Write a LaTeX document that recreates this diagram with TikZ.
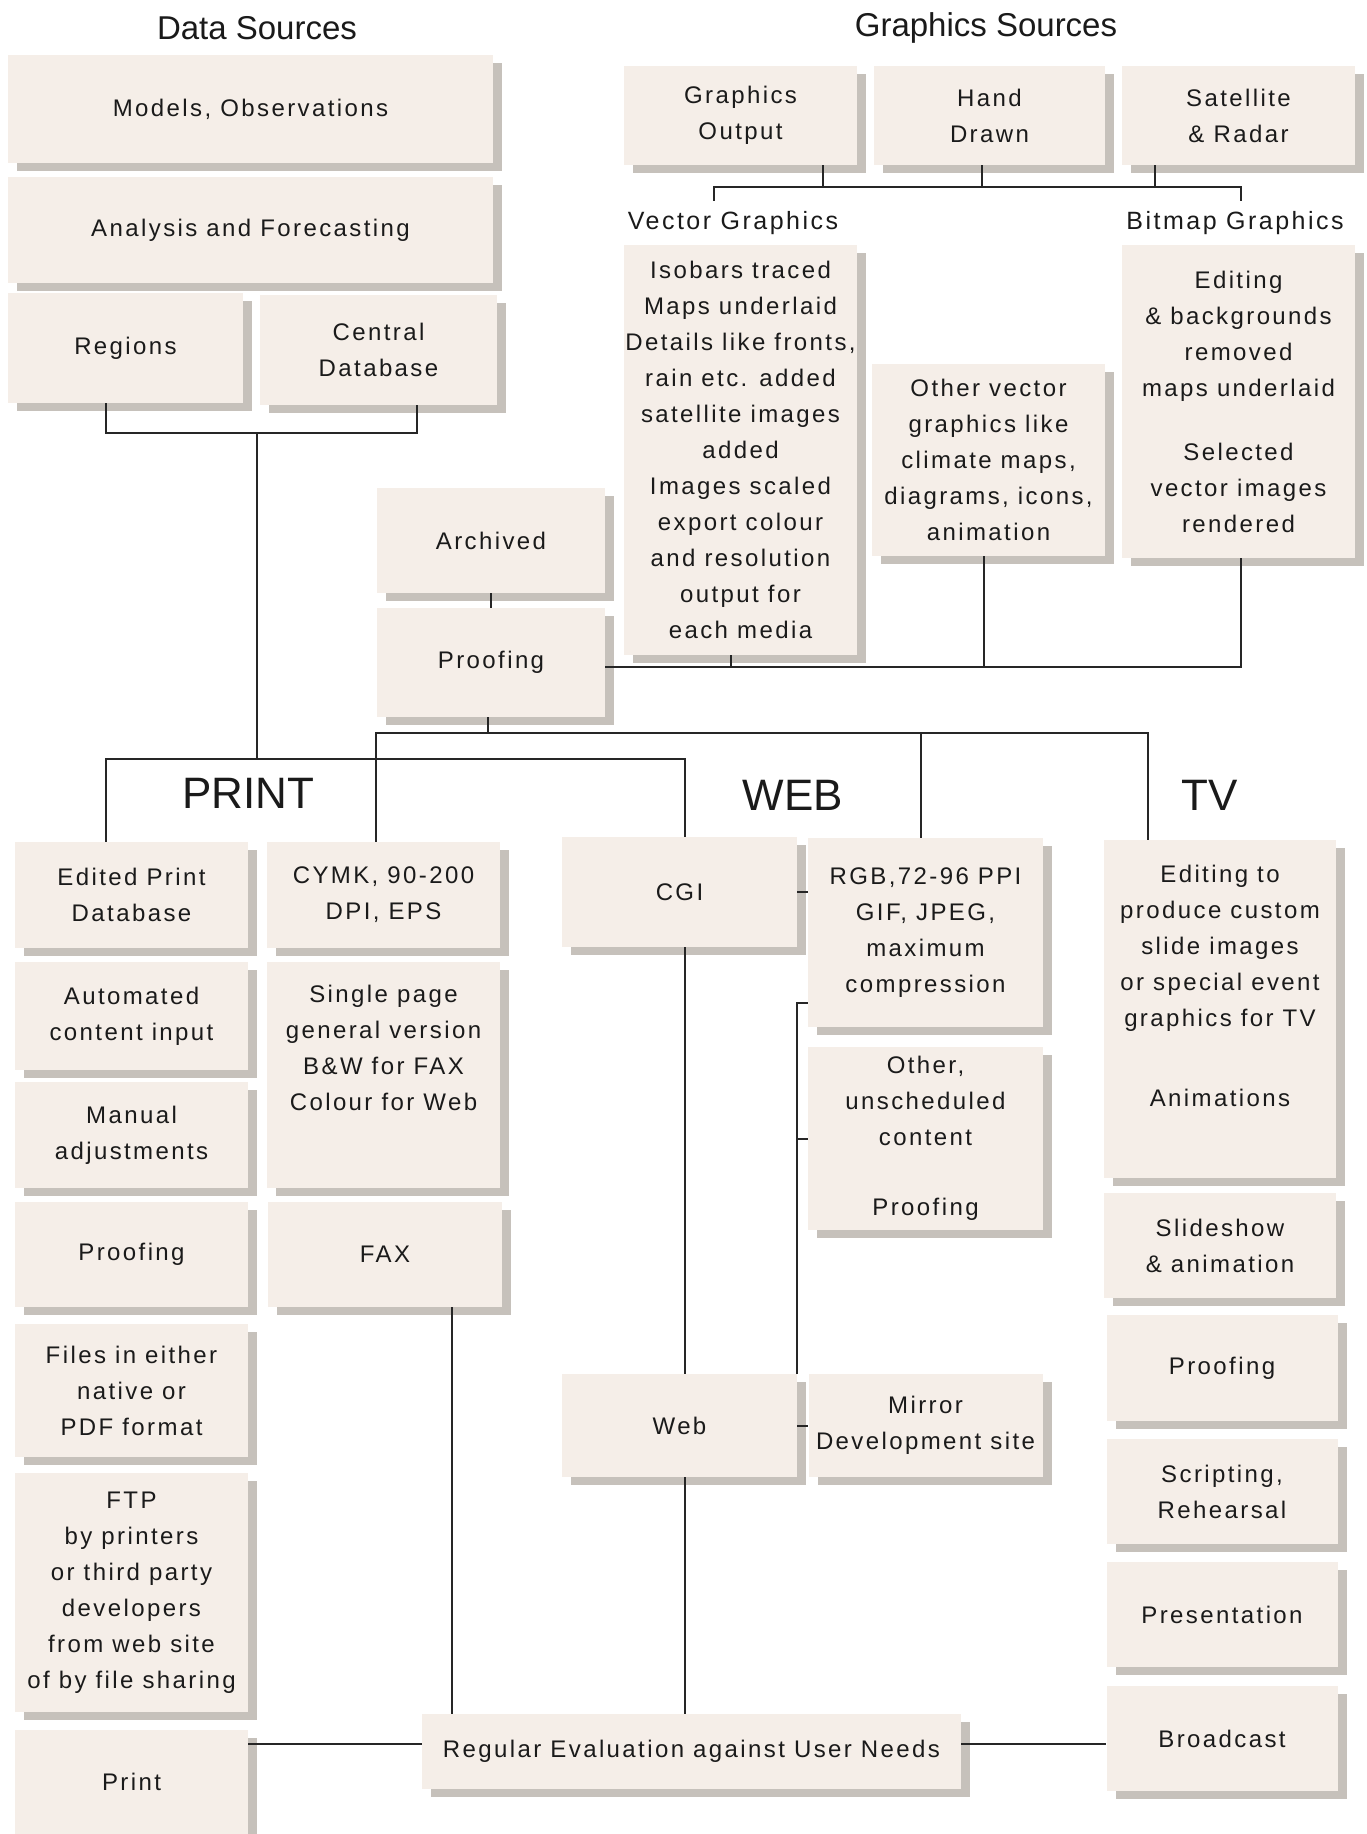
\documentclass[tikz,border=0pt]{standalone}
\usepackage{fontspec}
\setmainfont{Liberation Sans}[LetterSpace=10]
\newfontfamily\headfont{Liberation Sans}
\usepackage{tikz}
\usepackage{xcolor}
\usetikzlibrary{shadows}
\definecolor{BoxBeige}{HTML}{F5EEE8}
\definecolor{ShadowGrey}{HTML}{C6C1BB}
\definecolor{LineDark}{HTML}{262626}
\definecolor{TextDark}{HTML}{1A1A1A}

\begin{document}
\begin{tikzpicture}[x=0.5pt, y=-0.5pt,
    box/.style={fill=BoxBeige, text=TextDark, align=center, inner sep=0pt,
      font=\fontsize{12}{18}\selectfont,
      general shadow={fill=ShadowGrey, shadow xshift=4.5pt, shadow yshift=-4pt}},
    link/.style={draw=LineDark, line width=1pt},
    head/.style={text=TextDark, font=\headfont\fontsize{22}{26}\selectfont},
    srctitle/.style={text=TextDark, font=\headfont\fontsize{16.5}{20}\selectfont},
    sublabel/.style={text=TextDark, font=\fontsize{12.5}{15}\selectfont}]

        % Page frame
        \useasboundingbox (0,0) rectangle (1366,1834);

        % Titles
        \node[srctitle] (datatitle) at (257,28) {Data Sources};
        \node[srctitle] (gfxtitle) at (986,28) {Graphics Sources};

        % Data sources
        \node[box, minimum width=242.5pt, minimum height=54pt] (models) at (250.5,109) {Models, Observations};
        \node[box, minimum width=242.5pt, minimum height=53pt] (analysis) at (250.5,230) {Analysis and Forecasting};
        \node[box, minimum width=117.5pt, minimum height=55pt] (regions) at (125.5,348) {Regions};
        \node[box, minimum width=118.5pt, minimum height=55pt] (centraldb) at (378.5,350) {Central\\Database};

        % Graphics sources
        \node[box, minimum width=116.5pt, minimum height=49.5pt] (gout) at (740.5,115.5) {Graphics\\Output};
        \node[box, minimum width=115.5pt, minimum height=49.5pt] (hand) at (989.5,115.5) {Hand\\Drawn};
        \node[box, minimum width=116.5pt, minimum height=49.5pt] (sat) at (1238.5,115.5) {Satellite\\\& Radar};
        \node[sublabel] (veclbl) at (733,223) {Vector Graphics};
        \node[sublabel] (bitlbl) at (1235,223) {Bitmap Graphics};
        \node[box, minimum width=116.5pt, minimum height=205pt] (vecbox) at (740.5,450) {Isobars traced\\Maps underlaid\\Details like fronts,\\rain etc. added\\satellite images\\added\\Images scaled\\export colour\\and resolution\\output for\\each media};
        \node[box, minimum width=116.5pt, minimum height=96pt] (othervec) at (988.5,460) {Other vector\\graphics like\\climate maps,\\diagrams, icons,\\animation};
        \node[box, minimum width=116.5pt, minimum height=156.5pt] (bitbox) at (1238.5,401.5) {Editing\\\& backgrounds\\removed\\maps underlaid\\[14pt]Selected\\vector images\\rendered};

        % Archive and proofing
        \node[box, minimum width=114pt, minimum height=52.5pt] (archived) at (491,540.5) {Archived};
        \node[box, minimum width=114pt, minimum height=54.5pt] (proofmid) at (491,662.5) {Proofing};

        % Output headings
        \node[head] (printhead) at (248,793) {PRINT};
        \node[head] (webhead) at (793,795) {WEB};
        \node[head] (tvhead) at (1210,795) {TV};

        % Print
        \node[box, minimum width=116.5pt, minimum height=53pt] (editdb) at (131.5,895) {Edited Print\\Database};
        \node[box, minimum width=116.5pt, minimum height=54pt] (autoin) at (131.5,1016) {Automated\\content input};
        \node[box, minimum width=116.5pt, minimum height=53pt] (manual) at (131.5,1135) {Manual\\adjustments};
        \node[box, minimum width=116.5pt, minimum height=52.5pt] (proofprint) at (131.5,1254.5) {Proofing};
        \node[box, minimum width=116.5pt, minimum height=66.5pt] (files) at (131.5,1390.5) {Files in either\\native or\\PDF format};
        \node[box, minimum width=116.5pt, minimum height=119.5pt] (ftp) at (131.5,1592.5) {FTP\\by printers\\or third party\\developers\\from web site\\of by file sharing};
        \node[box, minimum width=116.5pt, minimum height=52pt] (print) at (131.5,1782) {Print};
        \node[box, minimum width=116.5pt, minimum height=53pt] (cymk) at (383.5,895) {CYMK, 90-200\\DPI, EPS};
        \node[box, minimum width=116.5pt, minimum height=113pt] (single) at (383.5,1075) {Single page\\general version\\B\&W for FAX\\Colour for Web\\[9pt]\mbox{}};
        \node[box, minimum width=117pt, minimum height=52.5pt] (fax) at (385,1254.5) {FAX};

        % Web
        \node[box, minimum width=117.5pt, minimum height=55pt] (cgi) at (679.5,892) {CGI};
        \node[box, minimum width=117.5pt, minimum height=51.5pt] (web) at (679.5,1425.5) {Web};
        \node[box, minimum width=117.5pt, minimum height=94.5pt] (rgb) at (925.5,932.5) {RGB,72-96 PPI\\GIF, JPEG,\\maximum\\compression};
        \node[box, minimum width=117.5pt, minimum height=91.5pt] (unsched) at (925.5,1138.5) {Other,\\unscheduled\\content\\[17pt]Proofing};
        \node[box, minimum width=117pt, minimum height=51.5pt] (mirror) at (925.5,1425.5) {Mirror\\Development site};
        \node[box, minimum width=269.5pt, minimum height=37.5pt] (regular) at (691.5,1751.5) {Regular Evaluation against User Needs};

        % TV
        \node[box, minimum width=116pt, minimum height=169pt] (tvedit) at (1220,1009) {Editing to\\produce custom\\slide images\\or special event\\graphics for TV\\[22pt]Animations\\[5pt]\mbox{}};
        \node[box, minimum width=116pt, minimum height=52.5pt] (slides) at (1220,1245.5) {Slideshow\\\& animation};
        \node[box, minimum width=115.5pt, minimum height=53pt] (prooftv) at (1222,1368) {Proofing};
        \node[box, minimum width=115.5pt, minimum height=52.5pt] (scripting) at (1222,1491.5) {Scripting,\\Rehearsal};
        \node[box, minimum width=115.5pt, minimum height=52.5pt] (present) at (1222,1614.5) {Presentation};
        \node[box, minimum width=115.5pt, minimum height=52.5pt] (broadcast) at (1222,1738.5) {Broadcast};

        % Data feed
        \coordinate (databus) at (257,433);
        \coordinate (printbus) at (257,759);
        \draw[link] (regions.south -| 106,0) |- (databus) -| (centraldb.south -| 417,0);
        \draw[link] (databus) -- (printbus);
        \draw[link] (editdb.north -| 106,0) |- (printbus) -| (cgi.north -| 685,0);

        % Graphics feed
        \coordinate (gfxbus) at (982,187);
        \coordinate (vecend) at (714,201);
        \coordinate (bitend) at (1241,201);
        \draw[link] (vecend) |- (gfxbus) -| (bitend);
        \foreach \src/\xx in {gout/823, hand/982, sat/1155}
            \draw[link] (\src.south -| \xx,0) -- (gfxbus -| \xx,0);

        % Into proofing
        \coordinate (proofbus) at (984,667);
        \draw[link] (proofmid.east |- 0,667) -| (bitbox.south -| 1241,0);
        \draw[link] (vecbox.south -| 731,0) -- (proofbus -| 731,0);
        \draw[link] (othervec.south -| 984,0) -- (proofbus);
        \draw[link] (archived) -- (proofmid);

        % Out of proofing
        \coordinate (outbus) at (488,733);
        \draw[link] (proofmid.south -| 488,0) -- (outbus);
        \draw[link] (cymk.north -| 376,0) |- (outbus) -| (tvedit.north -| 1148,0);
        \draw[link] (outbus -| 921,0) -- (rgb.north -| 921,0);

        % Web links
        \draw[link] (cgi.east) -- (cgi.east -| rgb.west);
        \draw[link] (cgi.south -| 685,0) -- (web.north -| 685,0);
        \draw[link] (rgb.west |- 0,1003) -| (web.north east);
        \draw[link] (unsched.west) -- (unsched.west -| web.north east);
        \draw[link] (web.east) -- (web.east -| mirror.west);

        % Evaluation
        \draw[link] (web.south -| 685,0) -- (regular.north -| 685,0);
        \draw[link] (fax.south -| 452,0) -- (regular.north -| 452,0);
        \draw[link] (print.east |- 0,1744) -- (regular.west |- 0,1744);
        \draw[link] (regular.east |- 0,1744) -- (broadcast.west |- 0,1744);

\end{tikzpicture}
\end{document}
